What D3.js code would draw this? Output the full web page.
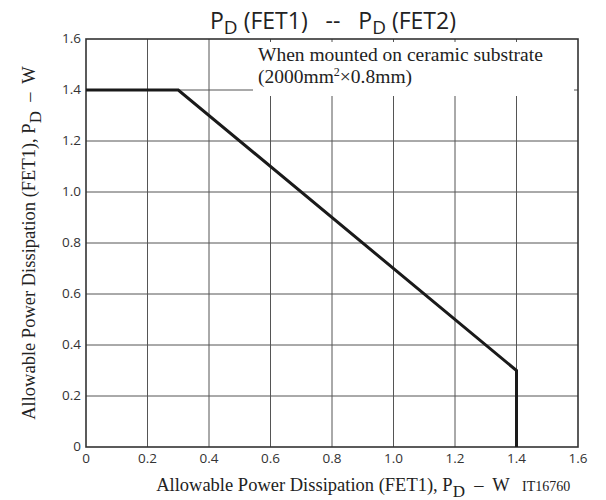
<!DOCTYPE html>
<html>
<head>
<meta charset="utf-8">
<script src="https://cdn.jsdelivr.net/npm/d3@7"></script>
<style>
  body { margin: 0; background: #fff; }
  svg { display: block; }
  text { white-space: pre; }
</style>
</head>
<body>
<div id="chart"></div>
<script>
// curve: PD(FET1) vs PD(FET2)
const fet1 = [0, 0.3, 1.4, 1.4];
const fet2 = [1.4, 1.4, 0.3, 0];
const xTicks = [0, 0.2, 0.4, 0.6, 0.8, 1.0, 1.2, 1.4, 1.6];
const yTicks = [0, 0.2, 0.4, 0.6, 0.8, 1.0, 1.2, 1.4, 1.6];
const tickFmt = d => d === 0 ? "0" : d.toFixed(1);

let width = 606, height = 500;
let m = { left: 86, right: 28, top: 39, bottom: 53 };

let svg = d3.select("#chart").append("svg").attr("width", width).attr("height", height);

let x = d3.scaleLinear().domain([0, 1.6]).range([m.left, width - m.right]);
let y = d3.scaleLinear().domain([0, 1.6]).range([height - m.bottom, m.top]);

const SANS = "'Open Sans', 'DejaVu Sans', sans-serif";
const SERIF = "'Liberation Serif', 'Times New Roman', serif";

// grid
let grid = svg.append("g").attr("stroke", "#555").attr("stroke-width", 1);
grid.selectAll("line.v").data(xTicks.slice(1, -1)).join("line")
    .attr("x1", d => x(d)).attr("x2", d => x(d))
    .attr("y1", y(0)).attr("y2", y(1.6));
grid.selectAll("line.h").data(yTicks.slice(1, -1)).join("line")
    .attr("y1", d => y(d)).attr("y2", d => y(d))
    .attr("x1", x(0)).attr("x2", x(1.6));

// white box behind the note, leaves small ticks at the frame
svg.append("rect")
    .attr("x", 253).attr("y", y(1.6) + 3)
    .attr("width", x(1.6) - 4 - 253).attr("height", y(1.4) + 3 - y(1.6))
    .attr("fill", "#fff");

// frame
svg.append("rect")
    .attr("x", x(0)).attr("y", y(1.6))
    .attr("width", x(1.6) - x(0)).attr("height", y(0) - y(1.6))
    .attr("fill", "none").attr("stroke", "#333").attr("stroke-width", 1.6);

// curve
let line = d3.line().x(d => x(d[0])).y(d => y(d[1]));
svg.append("path")
    .datum(fet1.map((v, i) => [v, fet2[i]]))
    .attr("d", line)
    .attr("fill", "none").attr("stroke", "#1a1a1a").attr("stroke-width", 3)
    .attr("stroke-linejoin", "miter");

// tick labels
svg.append("g").selectAll("text").data(xTicks).join("text")
    .attr("x", d => x(d)).attr("y", y(0) + 16)
    .attr("text-anchor", "middle")
    .attr("font-family", SANS).attr("font-size", 13.5).attr("fill", "#333")
    .text(tickFmt);
svg.append("g").selectAll("text").data(yTicks).join("text")
    .attr("x", x(0) - 5).attr("y", d => y(d) + 4)
    .attr("text-anchor", "end")
    .attr("font-family", SANS).attr("font-size", 13.5).attr("fill", "#333")
    .text(tickFmt);

// title
let title = svg.append("text")
    .attr("x", 333).attr("y", 29).attr("text-anchor", "middle")
    .attr("font-family", SANS).attr("font-size", 23).attr("fill", "#222");
title.append("tspan").text("P");
title.append("tspan").attr("dy", 5).attr("font-size", 19).text("D");
title.append("tspan").attr("dy", -5).text(" (FET1)   --   P");
title.append("tspan").attr("dy", 5).attr("font-size", 19).text("D");
title.append("tspan").attr("dy", -5).text(" (FET2)");

// note
let note = svg.append("g").attr("font-family", SERIF).attr("font-size", 19.5).attr("fill", "#222");
note.append("text").attr("x", 258).attr("y", 61).text("When mounted on ceramic substrate");
let n2 = note.append("text").attr("x", 258).attr("y", 83);
n2.append("tspan").text("(2000mm");
n2.append("tspan").attr("dy", -7).attr("font-size", 12).text("2");
n2.append("tspan").attr("dy", 7).text("×0.8mm)");

// axis titles
function axisTitle(sel) {
    sel.append("tspan").text("Allowable Power Dissipation (FET1), P");
    sel.append("tspan").attr("dy", 6).attr("font-size", 17).text("D");
    sel.append("tspan").attr("dy", -6).text("  –  W");
}
let xt = svg.append("text")
    .attr("x", 333).attr("y", 491).attr("text-anchor", "middle")
    .attr("font-family", SERIF).attr("font-size", 18.5).attr("fill", "#222");
axisTitle(xt);
svg.append("text")
    .attr("x", 522).attr("y", 491)
    .attr("font-family", SERIF).attr("font-size", 14).attr("fill", "#222")
    .text("IT16760");

let yt = svg.append("text")
    .attr("transform", "translate(35," + y(0.8) + ") rotate(-90)")
    .attr("text-anchor", "middle")
    .attr("font-family", SERIF).attr("font-size", 18.5).attr("fill", "#222");
axisTitle(yt);
</script>
</body>
</html>
